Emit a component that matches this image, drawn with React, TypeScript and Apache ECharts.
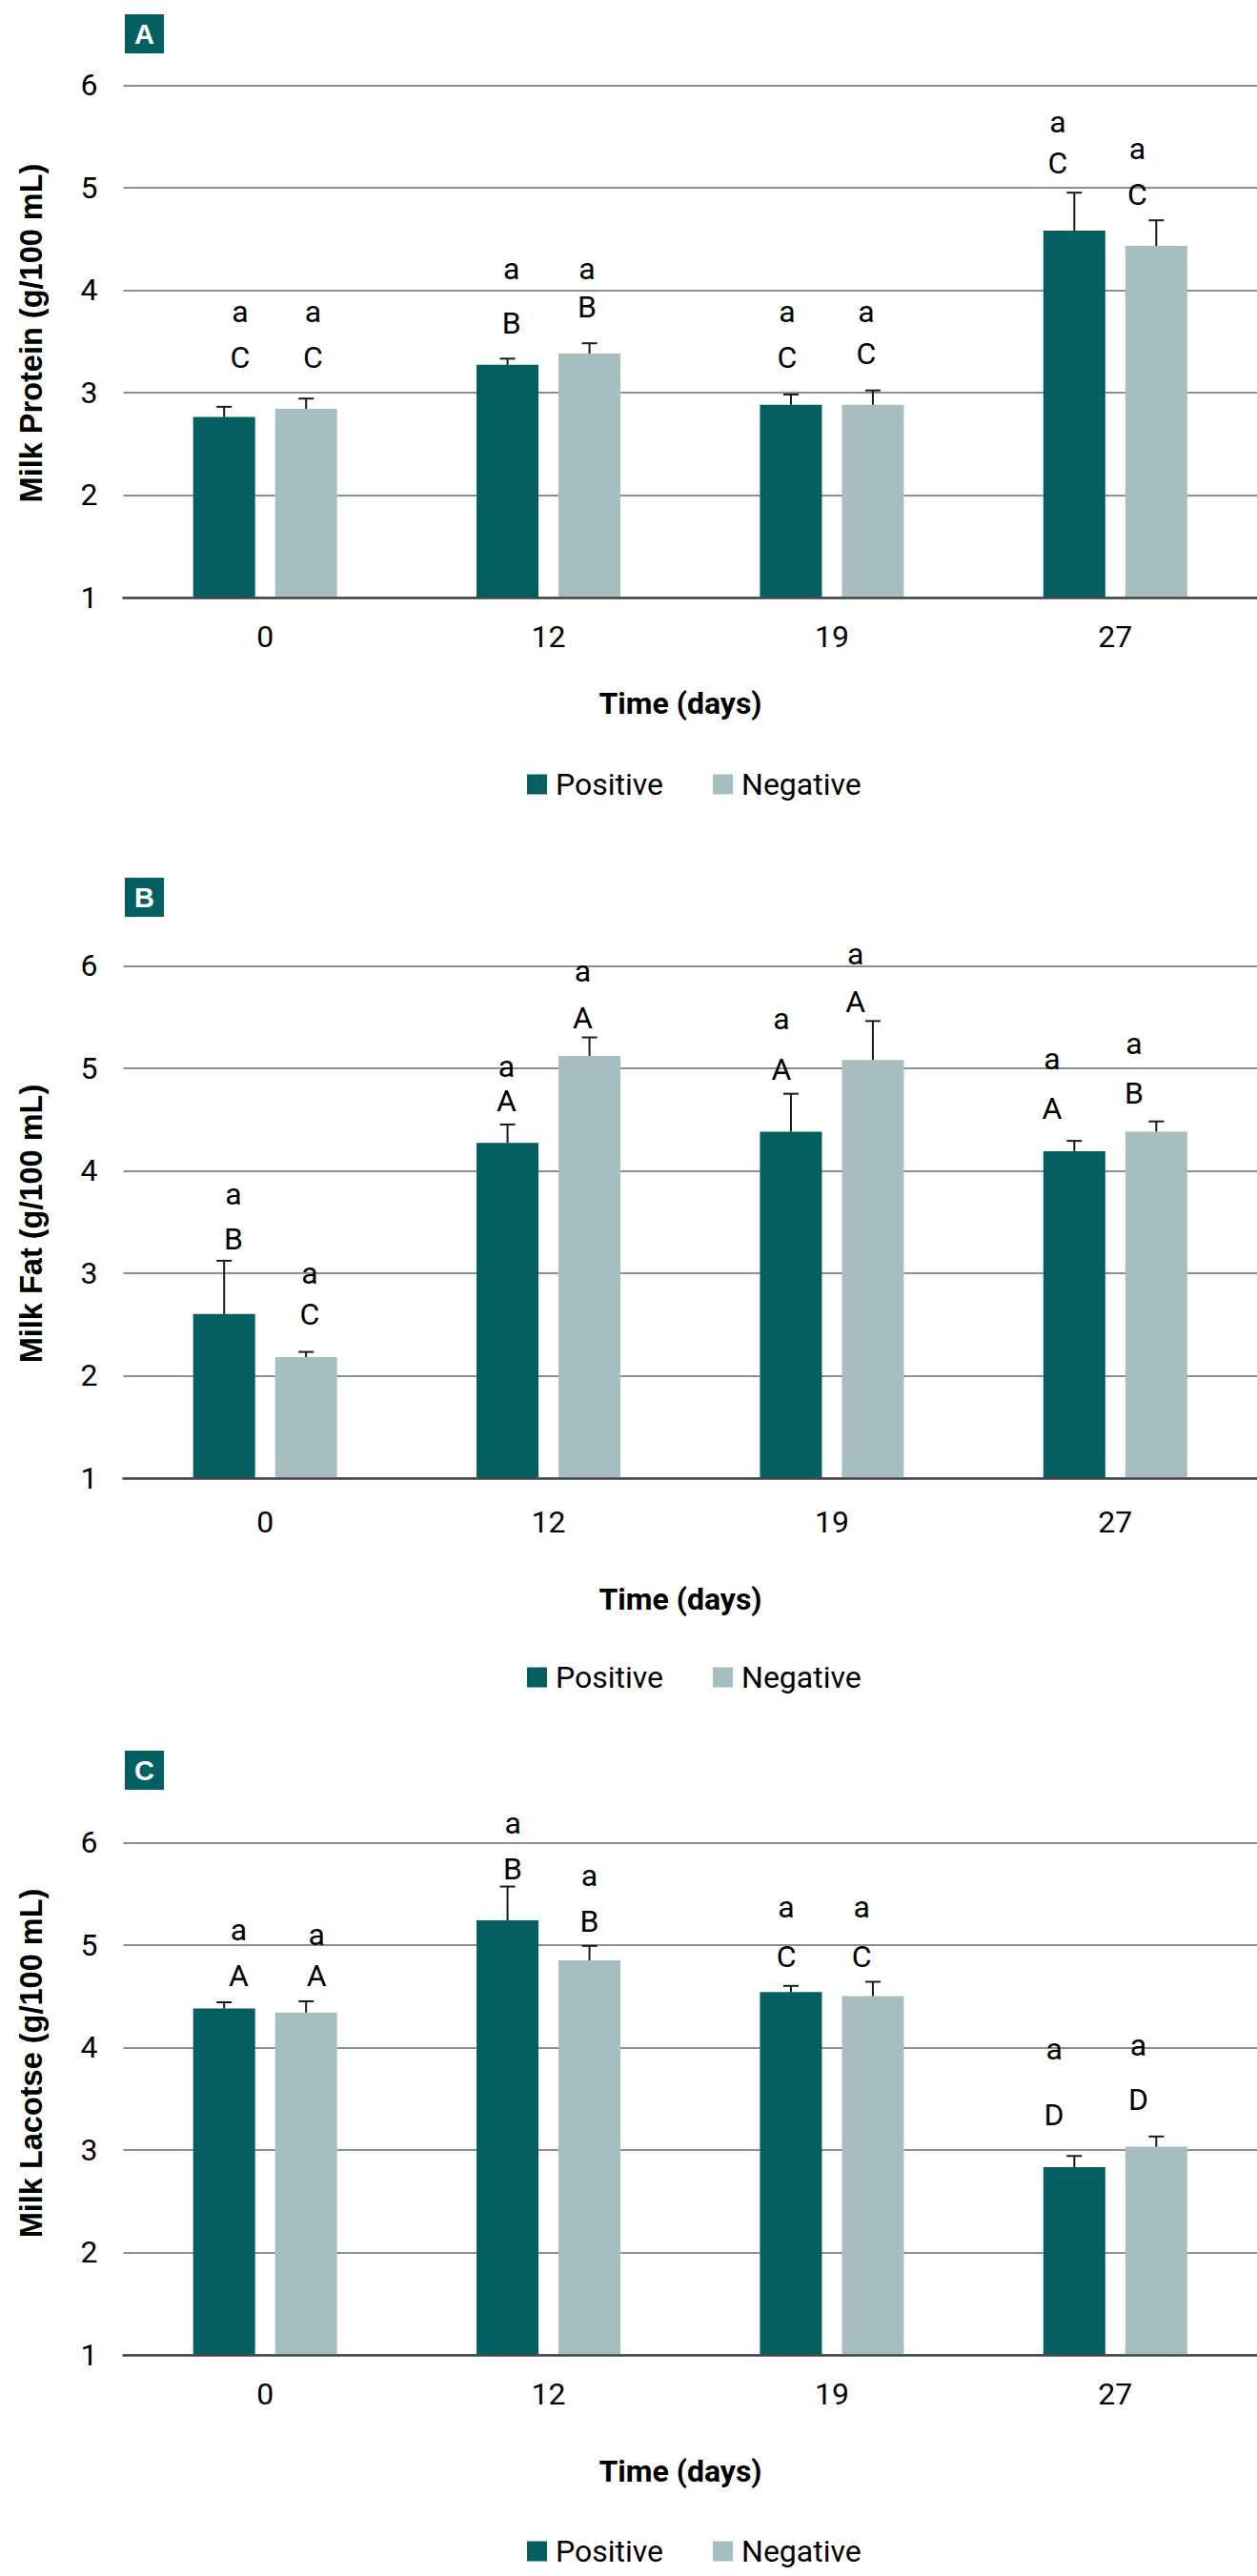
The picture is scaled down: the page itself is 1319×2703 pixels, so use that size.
import React, { useEffect, useRef } from 'react';
import * as echarts from 'echarts';

// ---------- data ----------
const categories = ['0', '12', '19', '27'];
const seriesNames = ['Positive', 'Negative'];

// Panel A – milk protein
const proteinPositive = [2.76, 3.27, 2.88, 4.58];
const proteinNegative = [2.84, 3.38, 2.88, 4.43];
const proteinPositiveErr = [0.10, 0.06, 0.10, 0.37];
const proteinNegativeErr = [0.10, 0.10, 0.14, 0.25];
const proteinLetterX = [-0.088, 0.169, 0.869, 1.136, 1.842, 2.121, 2.797, 3.078];
const proteinCaps = ['C', 'C', 'B', 'B', 'C', 'C', 'C', 'C'];
const proteinCapY = [3.34, 3.34, 3.68, 3.84, 3.34, 3.38, 5.24, 4.93];
const proteinSmallY = [3.79, 3.79, 4.21, 4.21, 3.79, 3.79, 5.64, 5.38];

// Panel B – milk fat
const fatPositive = [2.60, 4.27, 4.38, 4.19];
const fatNegative = [2.18, 5.12, 5.08, 4.38];
const fatPositiveErr = [0.52, 0.18, 0.37, 0.10];
const fatNegativeErr = [0.05, 0.18, 0.38, 0.10];
const fatLetterX = [-0.112, 0.157, 0.852, 1.121, 1.822, 2.083, 2.777, 3.066];
const fatCaps = ['B', 'C', 'A', 'A', 'A', 'A', 'A', 'B'];
const fatCapY = [3.33, 2.60, 4.68, 5.49, 4.99, 5.65, 4.61, 4.76];
const fatSmallY = [3.77, 3.00, 5.02, 5.95, 5.48, 6.11, 5.09, 5.24];

// Panel C – milk lactose
const lactosePositive = [4.38, 5.24, 4.54, 2.83];
const lactoseNegative = [4.34, 4.85, 4.50, 3.03];
const lactosePositiveErr = [0.06, 0.33, 0.06, 0.11];
const lactoseNegativeErr = [0.11, 0.14, 0.14, 0.10];
const lactoseLetterX = [-0.093, 0.182, 0.874, 1.144, 1.839, 2.105, 2.784, 3.081];
const lactoseCaps = ['A', 'A', 'B', 'B', 'C', 'C', 'D', 'D'];
const lactoseCapY = [4.70, 4.70, 5.74, 5.23, 4.89, 4.89, 3.34, 3.49];
const lactoseSmallY = [5.15, 5.10, 6.19, 5.68, 5.37, 5.37, 3.98, 4.02];

const yMin = 1;
const yMax = 6;
const yInterval = 1;

// ---------- styles ----------
const W = 1319;
const H = 2703;
const POS_COLOR = '#035f60';
const NEG_COLOR = '#a6bebf';
const BAR_W = 65;
const BAR_GAP_PX = 21;
const ERR_COLOR = '#1a1a1a';

const panels = [
  {
    tag: 'A', yTitle: 'Milk Protein (g/100 mL)',
    pos: proteinPositive, neg: proteinNegative, posErr: proteinPositiveErr, negErr: proteinNegativeErr,
    lx: proteinLetterX, caps: proteinCaps, capY: proteinCapY, smallY: proteinSmallY,
    gridTop: 89.3, labelMargin: 25, boxTop: 15, xTitleY: 738, legendY: 823, yTitleY: 349.5,
  },
  {
    tag: 'B', yTitle: 'Milk Fat (g/100 mL)',
    pos: fatPositive, neg: fatNegative, posErr: fatPositiveErr, negErr: fatNegativeErr,
    lx: fatLetterX, caps: fatCaps, capY: fatCapY, smallY: fatSmallY,
    gridTop: 1013.3, labelMargin: 30, boxTop: 921, xTitleY: 1678, legendY: 1760, yTitleY: 1284,
  },
  {
    tag: 'C', yTitle: 'Milk Lacotse (g/100 mL)',
    pos: lactosePositive, neg: lactoseNegative, posErr: lactosePositiveErr, negErr: lactoseNegativeErr,
    lx: lactoseLetterX, caps: lactoseCaps, capY: lactoseCapY, smallY: lactoseSmallY,
    gridTop: 1933.3, labelMargin: 25, boxTop: 1837, xTitleY: 2593, legendY: 2677, yTitleY: 2165,
  },
];

const PLOT_LEFT = 129.5;
const PLOT_H = 537.5;

function buildOption() {
  const grid: any[] = [];
  const xAxis: any[] = [];
  const yAxis: any[] = [];
  const series: any[] = [];
  const legend: any[] = [];
  const graphic: any[] = [];

  panels.forEach((p, k) => {
    grid.push({ left: PLOT_LEFT, top: p.gridTop, width: W - PLOT_LEFT, height: PLOT_H, containLabel: false });
    xAxis.push({
      type: 'category', gridIndex: k, data: categories, boundaryGap: true,
      axisTick: { show: false },
      axisLine: { show: true, lineStyle: { color: '#444', width: 2.5 } },
      axisLabel: { fontSize: 32, fontFamily: 'Roboto', color: '#000', margin: p.labelMargin, lineHeight: 32 },
      z: 3,
    });
    xAxis.push({ type: 'value', gridIndex: k, min: -0.5, max: 3.5, show: false });
    yAxis.push({
      type: 'value', gridIndex: k, min: yMin, max: yMax, interval: yInterval,
      axisLine: { show: false }, axisTick: { show: false },
      axisLabel: { fontSize: 32, fontFamily: 'Roboto', color: '#000', margin: 27 },
      splitLine: { show: true, lineStyle: { color: '#6a6a6a', width: 1.6 } },
    });

    const barGapPct = (BAR_GAP_PX / BAR_W) * 100 + '%';
    series.push({
      type: 'bar', name: seriesNames[0], xAxisIndex: 2 * k, yAxisIndex: k,
      data: p.pos, barWidth: BAR_W, barGap: barGapPct, itemStyle: { color: POS_COLOR },
    });
    series.push({
      type: 'bar', name: seriesNames[1], xAxisIndex: 2 * k, yAxisIndex: k,
      data: p.neg, barWidth: BAR_W, barGap: barGapPct, itemStyle: { color: NEG_COLOR },
    });

    const errSeries = (vals: number[], errs: number[], sign: number) => ({
      type: 'custom', xAxisIndex: 2 * k, yAxisIndex: k, z: 5, silent: true,
      encode: { x: 0, y: 1 },
      data: vals.map((v, i) => [i, v, errs[i]]),
      renderItem: (params: any, api: any) => {
        const c = api.value(0);
        const v = api.value(1);
        const e = api.value(2);
        const base = api.coord([c, v]);
        const top = api.coord([c, v + e]);
        const x = base[0] + sign * (BAR_W / 2 + BAR_GAP_PX / 2);
        const st = { stroke: ERR_COLOR, lineWidth: 2 };
        return {
          type: 'group',
          children: [
            { type: 'line', shape: { x1: x, y1: base[1], x2: x, y2: top[1] }, style: st },
            { type: 'line', shape: { x1: x - 8, y1: top[1], x2: x + 8, y2: top[1] }, style: st },
          ],
        };
      },
    });
    series.push(errSeries(p.pos, p.posErr, -1));
    series.push(errSeries(p.neg, p.negErr, 1));

    const letterTexts: string[] = [];
    const letterData: number[][] = [];
    p.lx.forEach((x, i) => {
      letterData.push([x, p.capY[i]]);
      letterTexts.push(p.caps[i]);
      letterData.push([x, p.smallY[i]]);
      letterTexts.push('a');
    });
    series.push({
      type: 'custom', xAxisIndex: 2 * k + 1, yAxisIndex: k, z: 6, silent: true, clip: false,
      encode: { x: 0, y: 1 },
      data: letterData,
      renderItem: (params: any, api: any) => {
        const pt = api.coord([api.value(0), api.value(1)]);
        return {
          type: 'text', x: pt[0], y: pt[1],
          style: {
            text: letterTexts[params.dataIndex], fill: '#000', fontSize: 32, fontFamily: 'Roboto',
            align: 'center', verticalAlign: 'middle',
          },
        };
      },
    });

    legend.push({
      left: 553, top: p.legendY - 16, padding: 0, itemWidth: 21, itemHeight: 21, itemGap: 52, icon: 'rect',
      data: seriesNames,
      textStyle: { fontSize: 32, fontFamily: 'Roboto', color: '#000', lineHeight: 32, padding: [0, 0, 0, 4] },
    });

    graphic.push({
      type: 'group', children: [
        { type: 'rect', shape: { x: 131, y: p.boxTop, width: 41, height: 41 }, style: { fill: POS_COLOR } },
        {
          type: 'text', x: 151.5, y: p.boxTop + 21,
          style: { text: p.tag, fill: '#fff', fontSize: 29, fontWeight: 'bold', fontFamily: 'Liberation Sans', align: 'center', verticalAlign: 'middle' },
        },
        {
          type: 'text', x: 33, y: p.yTitleY, rotation: Math.PI / 2,
          style: { text: p.yTitle, fill: '#000', fontSize: 32.5, fontWeight: 'bold', fontFamily: 'Liberation Sans', align: 'center', verticalAlign: 'middle' },
        },
        {
          type: 'text', x: 714, y: p.xTitleY,
          style: { text: 'Time (days)', fill: '#000', fontSize: 32, fontWeight: 'bold', fontFamily: 'Roboto', align: 'center', verticalAlign: 'middle' },
        },
      ],
    });
  });

  return { animation: false, backgroundColor: '#fff', grid, xAxis, yAxis, series, legend, graphic };
}

export default function App() {
  const ref = useRef<HTMLDivElement>(null);
  useEffect(() => {
    if (!ref.current) return;
    const chart = echarts.init(ref.current, undefined, { renderer: 'svg', width: W, height: H });
    chart.setOption(buildOption() as any);
    return () => chart.dispose();
  }, []);
  return <div ref={ref} style={{ position: 'absolute', left: 0, top: 0, width: W, height: H, background: '#fff' }} />;
}
